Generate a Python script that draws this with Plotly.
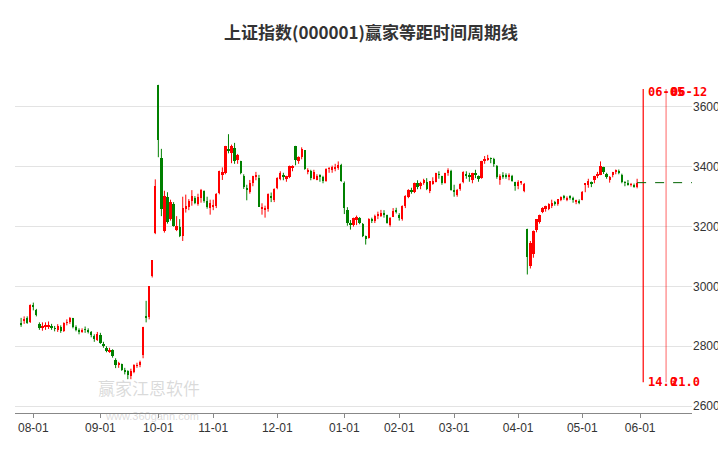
import plotly.graph_objs as go

# trading days per month (day numbers)
month_days = [
    ('2024-07', [26, 29, 30, 31]),
    ('2024-08', [1, 2, 5, 6, 7, 8, 9, 12, 13, 14, 15, 16, 19, 20, 21, 22, 23, 26, 27, 28, 29, 30]),
    ('2024-09', [2, 3, 4, 5, 6, 9, 10, 11, 12, 13, 18, 19, 20, 23, 24, 25, 26, 27, 30]),
    ('2024-10', [8, 9, 10, 11, 14, 15, 16, 17, 18, 21, 22, 23, 24, 25, 28, 29, 30, 31]),
    ('2024-11', [1, 4, 5, 6, 7, 8, 11, 12, 13, 14, 15, 18, 19, 20, 21, 22, 25, 26, 27, 28, 29]),
    ('2024-12', [2, 3, 4, 5, 6, 9, 10, 11, 12, 13, 16, 17, 18, 19, 20, 23, 24, 25, 26, 27, 30, 31]),
    ('2025-01', [2, 3, 6, 7, 8, 9, 10, 13, 14, 15, 16, 17, 20, 21, 22, 23, 24, 27]),
    ('2025-02', [5, 6, 7, 10, 11, 12, 13, 14, 17, 18, 19, 20, 21, 24, 25, 26, 27, 28]),
    ('2025-03', [3, 4, 5, 6, 7, 10, 11, 12, 13, 14, 17, 18, 19, 20, 21, 24, 25, 26, 27, 28, 31]),
    ('2025-04', [1, 2, 3, 7, 8, 9, 10, 11, 14, 15, 16, 17, 18, 21, 22, 23, 24, 25, 28, 29, 30]),
    ('2025-05', [6, 7, 8, 9, 12, 13, 14, 15, 16, 19, 20, 21, 22, 23, 26, 27, 28, 29, 30]),
]
# projected days
future_days = [('2025-06', [3, 4, 5, 6, 9, 10, 11, 12, 13, 16, 17, 18, 19, 20, 23, 24, 25, 26, 27]),
               ('2025-07', [1, 2, 3, 4])]

opn = [2878, 2885, 2893, 2880,
       2935, 2920, 2875, 2862, 2865, 2866, 2868, 2860, 2856, 2866, 2850, 2878, 2880, 2893, 2865, 2856, 2848, 2856, 2855, 2847, 2836, 2822,
       2838, 2808, 2795, 2782, 2786, 2753, 2738, 2740, 2720, 2716, 2702, 2715, 2735, 2738, 2770, 2900, 2898, 3035, 3180,
       3674, 3430, 3185, 3300, 3224, 3275, 3190, 3198, 3170, 3262, 3265, 3285, 3295, 3276, 3296, 3320, 3285, 3262,
       3267, 3270, 3312, 3372, 3380, 3460, 3446, 3464, 3423, 3420, 3370, 3327, 3315, 3345, 3368, 3364, 3262, 3258, 3258, 3303, 3290,
       3330, 3360, 3372, 3360, 3365, 3395, 3470, 3420, 3432, 3455, 3385, 3385, 3360, 3355, 3370, 3365, 3352, 3393, 3390, 3395, 3395, 3405,
       3347, 3255, 3210, 3204, 3225, 3228, 3210, 3170, 3163, 3223, 3218, 3234, 3238, 3244, 3238, 3205, 3232, 3255,
       3238, 3225, 3268, 3300, 3320, 3315, 3345, 3335, 3345, 3350, 3320, 3345, 3350, 3375, 3368, 3345, 3380, 3386,
       3321, 3306, 3326, 3348, 3375, 3370, 3356, 3378, 3369, 3364, 3419, 3425, 3428, 3425, 3404, 3355, 3372, 3369, 3366, 3370, 3348,
       3336, 3349, 3320, 3193, 3070, 3108, 3189, 3215, 3250, 3262, 3260, 3270, 3280, 3275, 3288, 3300, 3290, 3300, 3295, 3285, 3286,
       3290, 3341, 3340, 3350, 3355, 3370, 3373, 3400, 3376, 3356, 3371, 3385, 3383, 3374, 3348, 3346, 3340, 3338, 3332]
hi = [2895, 2900, 2900, 2940,
      2946, 2925, 2880, 2880, 2880, 2883, 2875, 2868, 2874, 2870, 2880, 2890, 2898, 2895, 2870, 2860, 2860, 2866, 2860, 2851, 2840, 2848,
      2845, 2815, 2800, 2795, 2790, 2760, 2748, 2742, 2728, 2720, 2725, 2740, 2745, 2752, 2865, 2952, 3000, 3088, 3358,
      3674, 3460, 3320, 3315, 3290, 3282, 3235, 3225, 3300, 3307, 3292, 3322, 3302, 3310, 3326, 3321, 3300, 3290,
      3290, 3312, 3387, 3398, 3470, 3509, 3474, 3480, 3443, 3420, 3375, 3340, 3356, 3370, 3383, 3373, 3278, 3270, 3311, 3314, 3328,
      3365, 3385, 3380, 3370, 3404, 3405, 3470, 3435, 3465, 3455, 3395, 3390, 3390, 3375, 3375, 3370, 3395, 3399, 3404, 3410, 3418, 3410,
      3351, 3265, 3222, 3230, 3237, 3232, 3212, 3170, 3228, 3230, 3240, 3250, 3256, 3255, 3240, 3232, 3262, 3263,
      3245, 3271, 3305, 3325, 3330, 3347, 3355, 3350, 3360, 3362, 3352, 3365, 3380, 3385, 3370, 3380, 3395, 3390,
      3340, 3326, 3345, 3385, 3385, 3380, 3380, 3390, 3371, 3420, 3436, 3440, 3431, 3430, 3406, 3375, 3382, 3378, 3378, 3373, 3350,
      3355, 3352, 3346, 3193, 3152, 3187, 3225, 3240, 3265, 3270, 3278, 3290, 3286, 3291, 3301, 3306, 3301, 3305, 3300, 3290, 3291,
      3319, 3345, 3360, 3351, 3370, 3383, 3418, 3400, 3380, 3369, 3383, 3391, 3391, 3377, 3352, 3356, 3346, 3344, 3360]
lo = [2865, 2875, 2875, 2878,
      2920, 2900, 2855, 2852, 2855, 2858, 2855, 2850, 2848, 2845, 2848, 2870, 2875, 2860, 2850, 2840, 2845, 2845, 2843, 2830, 2815, 2818,
      2808, 2795, 2780, 2778, 2762, 2727, 2728, 2718, 2706, 2690, 2690, 2710, 2728, 2730, 2760, 2880, 2890, 3030, 3175,
      3432, 3235, 3180, 3210, 3220, 3200, 3185, 3165, 3152, 3247, 3255, 3270, 3275, 3270, 3280, 3280, 3260, 3240,
      3255, 3262, 3308, 3356, 3375, 3445, 3412, 3410, 3410, 3375, 3326, 3288, 3310, 3335, 3355, 3266, 3240, 3230, 3250, 3282, 3282,
      3325, 3355, 3355, 3350, 3362, 3385, 3405, 3410, 3425, 3390, 3375, 3355, 3358, 3355, 3350, 3345, 3350, 3380, 3380, 3385, 3390, 3350,
      3242, 3203, 3190, 3200, 3205, 3208, 3165, 3140, 3160, 3212, 3212, 3225, 3232, 3230, 3210, 3200, 3232, 3244,
      3220, 3220, 3262, 3295, 3310, 3312, 3325, 3325, 3340, 3322, 3312, 3340, 3348, 3360, 3340, 3344, 3370, 3320,
      3300, 3300, 3320, 3345, 3360, 3350, 3345, 3362, 3350, 3360, 3410, 3420, 3412, 3400, 3360, 3340, 3360, 3360, 3355, 3350, 3320,
      3325, 3340, 3315, 3040, 3060, 3096, 3181, 3210, 3245, 3250, 3255, 3262, 3270, 3270, 3285, 3290, 3285, 3290, 3280, 3275, 3275,
      3288, 3315, 3330, 3332, 3345, 3362, 3372, 3376, 3360, 3347, 3365, 3375, 3375, 3345, 3335, 3337, 3334, 3330, 3328]
cls = [2870, 2891, 2879, 2938,
       2932, 2905, 2860, 2867, 2869, 2870, 2862, 2858, 2868, 2850, 2877, 2879, 2893, 2866, 2856, 2849, 2855, 2855, 2848, 2837, 2824, 2842,
       2811, 2802, 2784, 2788, 2766, 2736, 2744, 2721, 2717, 2704, 2717, 2736, 2736, 2748, 2863, 2896, 3000, 3087, 3336,
       3489, 3258, 3301, 3217, 3284, 3201, 3202, 3169, 3261, 3268, 3285, 3302, 3280, 3300, 3322, 3286, 3266, 3279,
       3272, 3310, 3386, 3384, 3470, 3452, 3470, 3421, 3439, 3380, 3331, 3324, 3346, 3368, 3370, 3267, 3263, 3259, 3310, 3295, 3326,
       3363, 3379, 3365, 3368, 3404, 3402, 3422, 3432, 3461, 3392, 3386, 3361, 3382, 3370, 3368, 3352, 3394, 3394, 3398, 3400, 3407, 3352,
       3262, 3211, 3206, 3230, 3231, 3211, 3169, 3160, 3227, 3222, 3236, 3241, 3244, 3242, 3213, 3230, 3253, 3250,
       3229, 3270, 3303, 3322, 3318, 3346, 3333, 3346, 3355, 3325, 3351, 3351, 3379, 3373, 3346, 3380, 3388, 3321,
       3317, 3324, 3342, 3381, 3372, 3366, 3379, 3371, 3358, 3419, 3426, 3430, 3427, 3408, 3365, 3370, 3369, 3368, 3373, 3352, 3336,
       3348, 3350, 3342, 3097, 3145, 3186, 3224, 3238, 3263, 3268, 3276, 3280, 3277, 3291, 3300, 3296, 3297, 3296, 3288, 3287, 3279,
       3317, 3343, 3353, 3342, 3370, 3374, 3404, 3381, 3367, 3367, 3381, 3388, 3380, 3349, 3347, 3340, 3340, 3335, 3347]

cycle_dates = ['2025-06-05', '2025-06-12']
cycle_labels = ['14.0', '21.0']
cycle_pos = [204, 211.5]  # visual positions on trading-day axis

dates = ['%s-%02d' % (m, d) for m, ds in month_days for d in ds]
all_dates = dates + ['%s-%02d' % (m, d) for m, ds in future_days for d in ds]
xs = list(range(len(dates)))

# month tick positions: first trading day of each month (skip July 2024)
tickvals, ticktext = [], []
prev = None
for i, d in enumerate(all_dates):
    m = d[:7]
    if m != prev and i > 0:
        tickvals.append(i)
        ticktext.append(d[5:7] + '-01')
    prev = m

up = [c >= o for o, c in zip(opn, cls)]
cols = ['#ff0000' if u else '#008000' for u in up]

fig = go.Figure()
# wicks
for flag, col in [(True, '#ff0000'), (False, '#008000')]:
    wx, wy = [], []
    for i in xs:
        if up[i] == flag:
            wx += [i, i, None]
            wy += [lo[i], hi[i], None]
    fig.add_trace(go.Scatter(x=wx, y=wy, mode='lines', line=dict(color=col, width=1),
                             showlegend=False, hoverinfo='skip'))
# bodies
body = [max(abs(c - o), 2) for o, c in zip(opn, cls)]
base = [min(o, c) for o, c in zip(opn, cls)]
fig.add_trace(go.Bar(x=xs, y=body, base=base, width=0.75, marker=dict(color=cols, line=dict(width=0)),
                     showlegend=False, hoverinfo='skip'))

for i, (p, lab, dd) in enumerate(zip(cycle_pos, cycle_labels, cycle_dates)):
    col = '#ff0000' if i == 0 else 'rgba(255,0,0,0.5)'
    fig.add_shape(type='line', x0=p, x1=p, y0=2680, y1=3660, line=dict(color=col, width=1.2))
    fig.add_annotation(x=p, y=3650, text='<b>' + dd[5:] + '</b>', showarrow=False, xanchor='left', xshift=3,
                       font=dict(color='#ff0000', size=12, family='DejaVu Sans Mono'))
    fig.add_annotation(x=p, y=2680, text='<b>' + lab + '</b>', showarrow=False, xanchor='left', xshift=3,
                       font=dict(color='#ff0000', size=12, family='DejaVu Sans Mono'))

# last close level
fig.add_shape(type='line', x0=xs[-1], x1=240, y0=cls[-1], y1=cls[-1],
              line=dict(color='#006400', width=1, dash='dash'))

# watermark
fig.add_annotation(x=0.12, y=0.03, xref='paper', yref='paper', text='赢家江恩软件', showarrow=False,
                   font=dict(size=17, color='rgba(150,150,150,0.35)', family='Noto Sans CJK SC'))
fig.add_annotation(x=0.13, y=-0.03, xref='paper', yref='paper', text='www.360gann.com', showarrow=False,
                   font=dict(size=11, color='rgba(150,150,150,0.35)'))

fig.update_xaxes(range=[-2.0, 220.0], tickmode='array', tickvals=tickvals, ticktext=ticktext,
                 showgrid=False, zeroline=False, automargin=False,
                 showline=True, linecolor='#888', ticks='outside', ticklen=4, tickcolor='#888',
                 tickfont=dict(size=12, color='#333'))
fig.update_yaxes(range=[2577, 3757], side='right', tickvals=[2600, 2800, 3000, 3200, 3400, 3600],
                 showgrid=True, gridcolor='#e3e3e3', zeroline=False, automargin=False,
                 tickfont=dict(size=12, color='#333'))
fig.update_layout(
    width=726, height=450, margin=dict(l=7, r=42, t=52, b=45),
    plot_bgcolor='white', paper_bgcolor='white', bargap=0,
    title=dict(text='<b>上证指数(000001)赢家等距时间周期线</b>', x=0.5, y=0.958, xanchor='center',
               font=dict(size=17, color='#333', family='Noto Sans CJK SC')),
    font=dict(family='Liberation Sans'))
fig.write_html('out.html')
